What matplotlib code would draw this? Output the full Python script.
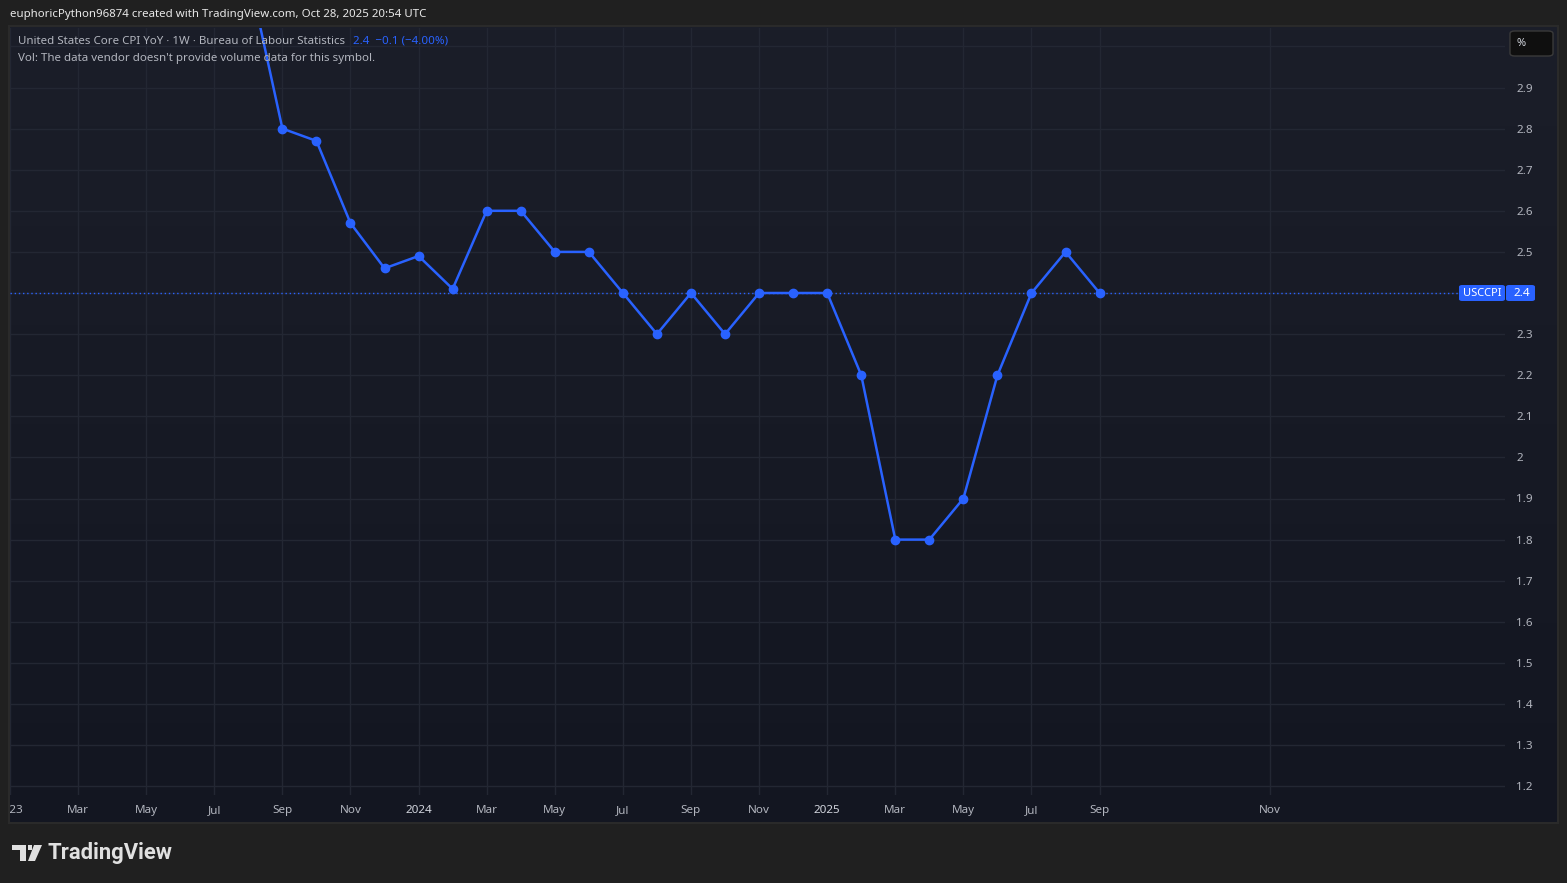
import matplotlib
matplotlib.use("Agg")
import matplotlib.pyplot as plt
import numpy as np
from matplotlib.patches import Rectangle, FancyBboxPatch, Polygon

plt.rcParams['font.family'] = ['Noto Sans', 'DejaVu Sans']

# ---- data (month index: 0 = Jan 2023) ----
months = [7, 8, 9, 10, 11, 12, 13, 14, 15, 16, 17, 18, 19, 20, 21, 22, 23, 24,
          25, 26, 27, 28, 29, 30, 31, 32]
values = [3.18, 2.80, 2.77, 2.57, 2.46, 2.49, 2.41, 2.60, 2.60, 2.50, 2.50, 2.40,
          2.30, 2.40, 2.30, 2.40, 2.40, 2.40, 2.20, 1.80, 1.80, 1.90, 2.20, 2.40,
          2.50, 2.40]
last_value = 2.4
tick_pos = [0, 2, 4, 6, 8, 10, 12, 14, 16, 18, 20, 22, 24, 26, 28, 30, 32, 37]
tick_labels = ['2023', 'Mar', 'May', 'Jul', 'Sep', 'Nov', '2024', 'Mar', 'May', 'Jul',
               'Sep', 'Nov', '2025', 'Mar', 'May', 'Jul', 'Sep', 'Nov']
y_ticks = [1.2, 1.3, 1.4, 1.5, 1.6, 1.7, 1.8, 1.9, 2.0, 2.1, 2.2, 2.3, 2.4, 2.5,
           2.6, 2.7, 2.8, 2.9]
grid_y = y_ticks + [3.0]

W, H = 1567, 883
fig = plt.figure(figsize=(W / 100, H / 100), dpi=100, facecolor='#202020')

def fx(px):
    return px / W

def fy(py):
    return 1 - py / H

# panel background (gradient)
bg = fig.add_axes([fx(10), fy(822), fx(1557 - 10), (822 - 27) / H])
grad = np.linspace(0, 1, 256).reshape(-1, 1)
top = np.array([0x1b, 0x1e, 0x29]) / 255
bot = np.array([0x13, 0x16, 0x21]) / 255
img = top[None, None, :] * (1 - grad[:, :, None]) + bot[None, None, :] * grad[:, :, None]
bg.imshow(img, aspect='auto', extent=[0, 1, 0, 1])
bg.set_axis_off()
bg.set_zorder(0)
# panel border
fig.patches.append(Rectangle((fx(9), fy(823)), fx(1549), (823 - 26) / H,
                             transform=fig.transFigure, fill=False,
                             edgecolor='#2a2a2a', linewidth=1.5, zorder=1))

# main axes
ax = fig.add_axes([fx(10), fy(795), fx(1505 - 10), (795 - 28) / H])
ax.set_zorder(2)
ax.patch.set_alpha(0)
x0 = (10 - 7.8) / 34.1
x1 = (1505 - 7.8) / 34.1
ax.set_xlim(x0, x1)
ymax = 2.4 + (293 - 28) / 411.0
ymin = 2.4 - (795 - 293) / 411.0
ax.set_ylim(ymin, ymax)

grid_c = '#232733'
for g in grid_y:
    ax.axhline(g, color=grid_c, linewidth=1, zorder=1)
for t in tick_pos:
    ax.axvline(t, color=grid_c, linewidth=1, zorder=1)

for s in ax.spines.values():
    s.set_visible(False)

blue = '#2962ff'
ax.axhline(last_value, color=blue, linewidth=1, linestyle=(0, (1, 2)), zorder=2)
ax.plot(months, values, color=blue, linewidth=1.8, marker='o', markersize=6,
        zorder=3, clip_on=True)

# x tick labels
ax.set_xticks(tick_pos)
ax.set_xticklabels(tick_labels)
ax.tick_params(axis='x', length=0, pad=7.5, labelsize=8.4, labelcolor='#b2b5be')
for lab in ax.get_xticklabels():
    if lab.get_text() in ('2024', '2025'):
        lab.set_fontweight('bold')
        lab.set_color('#d1d4dc')
    lab.set_clip_box(bg.bbox)
    lab.set_clip_on(True)

# y tick labels (2.4 is covered by the last-value label)
ax.yaxis.tick_right()
ax.set_yticks(y_ticks)
ax.set_yticklabels([('' if abs(v - last_value) < 1e-9 else '%g' % v) for v in y_ticks])
ax.tick_params(axis='y', length=0, pad=8, labelsize=8.4, labelcolor='#b2b5be')

# header
fig.text(fx(10), fy(14), 'euphoricPython96874 created with TradingView.com, Oct 28, 2025 20:54 UTC',
         color='#e8e8e8', fontsize=8.25, va='center', ha='left')

# legend
fig.text(fx(18), fy(41), 'United States Core CPI YoY · 1W · Bureau of Labour Statistics',
         color='#b2b5be', fontsize=8.3, va='center', ha='left', zorder=5)
fig.text(fx(353), fy(41), '2.4  \u22120.1 (\u22124.00%)', color=blue, fontsize=8.3,
         va='center', ha='left', zorder=5)
fig.text(fx(18), fy(58), "Vol: The data vendor doesn't provide volume data for this symbol.",
         color='#b2b5be', fontsize=8.3, va='center', ha='left', zorder=5)

# % box
fig.patches.append(FancyBboxPatch((fx(1510), fy(56)), fx(43), 25 / H,
                                  boxstyle='round,pad=0,rounding_size=0.003',
                                  transform=fig.transFigure, facecolor='#0f0f0f',
                                  edgecolor='#3a3a3a', linewidth=1, zorder=5))
fig.text(fx(1521), fy(43.5), '%', color='#d1d4dc', fontsize=8, va='center', ha='center', zorder=6)

# last price labels
fig.patches.append(FancyBboxPatch((fx(1459), fy(301)), fx(46), 16 / H,
                                  boxstyle='round,pad=0,rounding_size=0.002',
                                  transform=fig.transFigure, facecolor=blue,
                                  edgecolor='none', zorder=5))
fig.patches.append(FancyBboxPatch((fx(1506), fy(301)), fx(29), 16 / H,
                                  boxstyle='round,pad=0,rounding_size=0.002',
                                  transform=fig.transFigure, facecolor=blue,
                                  edgecolor='none', zorder=5))
fig.text(fx(1482), fy(293), 'USCCPI', color='white', fontsize=8, va='center', ha='center', zorder=6)
fig.text(fx(1522), fy(293), '%g' % last_value, color='white', fontsize=8.4, va='center', ha='center', zorder=6)

# TradingView logo
logo_c = '#e0e0e0'
def P(pts):
    return Polygon([(fx(a), fy(b)) for a, b in pts], closed=True, transform=fig.transFigure,
                   facecolor=logo_c, edgecolor='none', zorder=5)
fig.patches.append(P([(12, 845), (26, 845), (26, 861), (20, 861), (20, 850), (12, 850)]))
fig.patches.append(P([(28, 845), (32, 845), (32, 850), (28, 850)]))
fig.patches.append(P([(34, 845), (42, 845), (35, 861), (28, 861)]))
fig.text(fx(48), fy(853), 'TradingView', color=logo_c, fontsize=15.8, fontweight='bold',
         family=['Roboto', 'DejaVu Sans'], va='center', ha='left', zorder=6)

fig.savefig('out.png', dpi=100, facecolor=fig.get_facecolor())
